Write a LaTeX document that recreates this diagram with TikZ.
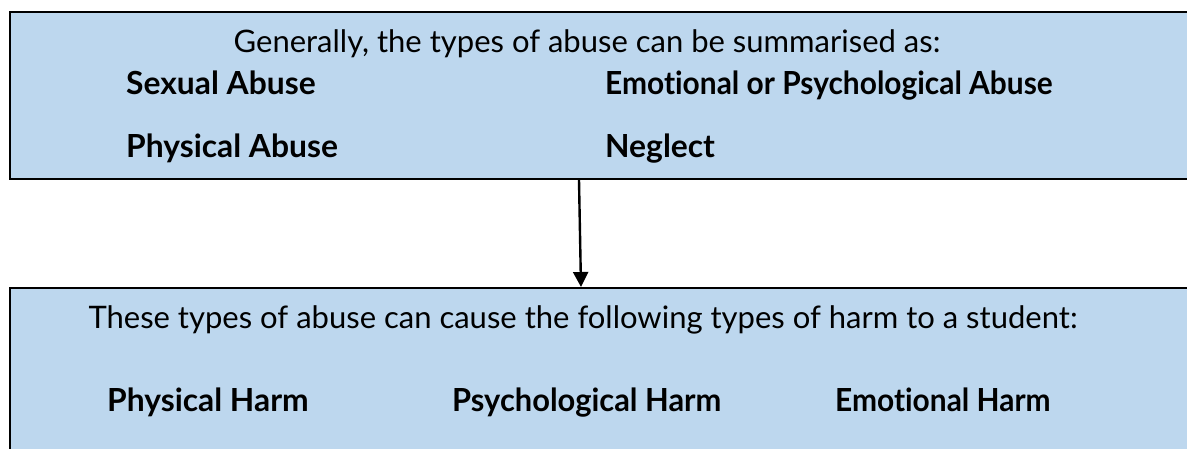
\documentclass[tikz,border=0pt]{standalone}
\usepackage{fontspec}
\usepackage{graphicx}
\setmainfont{Lato}[Ligatures=NoCommon]
\usetikzlibrary{arrows.meta}
\definecolor{boxblue}{HTML}{BDD7EE}
\newcommand{\squeeze}[2]{\scalebox{#1}[1]{#2}}
\tikzset{
  panel/.style={draw=black, line width=2pt, fill=boxblue, rectangle, inner sep=0pt, anchor=north west},
  reg/.style={anchor=base, inner sep=0pt, font=\fontsize{31}{36}\selectfont},
  item/.style={anchor=base west, inner sep=0pt, font=\fontsize{31.8}{36}\selectfont\bfseries},
  link/.style={line width=2.4pt, -{Triangle[length=15pt,width=15pt]}}
}
\begin{document}
\begin{tikzpicture}[x=1pt,y=-1pt]
\useasboundingbox (0,0) rectangle (1187,448);
\clip (0,0) rectangle (1187,448);
\node[panel, minimum width=1190pt, minimum height=167pt] (top) at (9,11) {};
\node[panel, minimum width=1190pt, minimum height=170pt] (bot) at (9,287) {};
\node[reg] (gen) at (587,52) {Generally, the types of abuse can be summarised as:};
\node[item] (sex) at (126,94) {Sexual Abuse};
\node[item] (emo) at (605,94) {\squeeze{0.94}{Emotional or Psychological Abuse}};
\node[item] (phy) at (126,157) {Physical Abuse};
\node[item] (neg) at (605,157) {Neglect};
\node[reg] (these) at (583,328) {These types of abuse can cause the following types of harm to a student:};
\node[item] (ph) at (107,411) {Physical Harm};
\node[item] (ps) at (452,411) {\squeeze{0.97}{Psychological Harm}};
\node[item] (eh) at (835,411) {\squeeze{0.94}{Emotional Harm}};
\coordinate (a) at (top.south west -| 579,0);
\coordinate (b) at (bot.north west -| 581,0);
\draw[link] (a) -- (b);
\end{tikzpicture}
\end{document}
